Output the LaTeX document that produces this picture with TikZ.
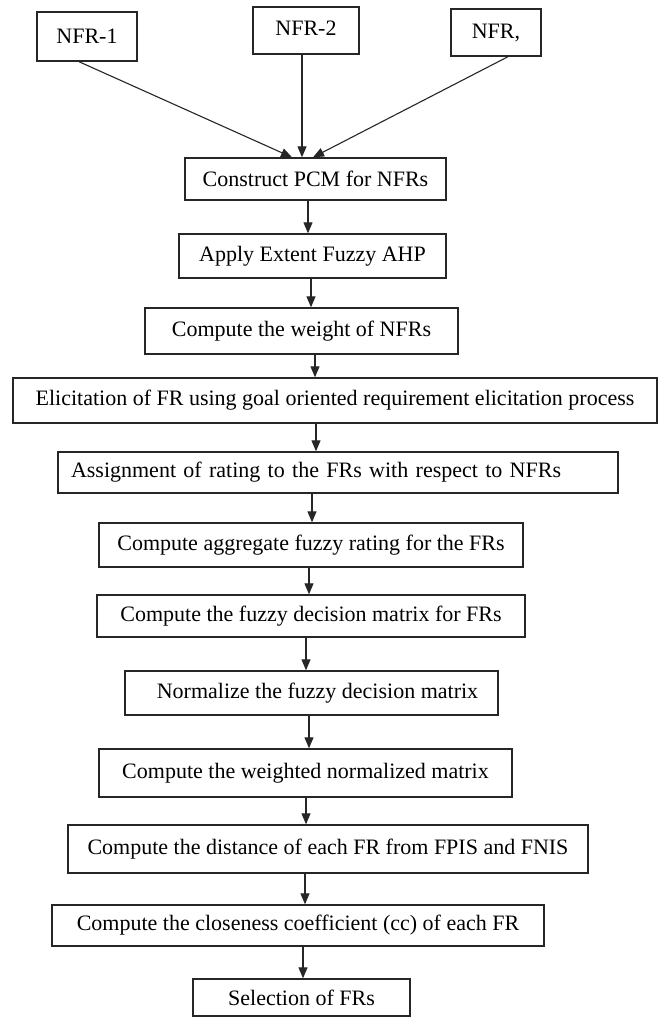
\documentclass[tikz,border=0pt]{standalone}
\usepackage{fontspec}
\setmainfont{Liberation Serif}
\usetikzlibrary{arrows.meta}
\tikzset{
  box/.style={draw=black!85, line width=1.4pt, inner sep=0pt, align=center, font=\fontsize{22}{25}\selectfont},
  arr/.style={draw=black!85, line width=1.1pt, -{Triangle[length=11pt,width=9pt]}}
}
\begin{document}
\begin{tikzpicture}[x=1pt,y=-1pt]
\fill[white] (0,0) rectangle (659,1017);
\useasboundingbox (0,0) rectangle (659,1017);
\node[box, minimum width=100pt, minimum height=49pt] (n1) at (87,36.5) {NFR-1};
\node[box, minimum width=106pt, minimum height=47pt] (n2) at (306,30.5) {\raisebox{4pt}{NFR-2}};
\node[box, minimum width=90pt, minimum height=47pt] (n3) at (496,32.5) {NFR,};
\node[box, minimum width=261pt, minimum height=42pt] (pcm) at (315.5,179) {Construct PCM for NFRs};
\node[box, minimum width=267pt, minimum height=44pt] (apply) at (312.5,256) {Apply Extent Fuzzy AHP};
\node[box, minimum width=313pt, minimum height=46pt] (weight) at (301.5,331) {Compute the weight of NFRs};
\node[box, minimum width=644pt, minimum height=45pt] (elic) at (335,400.5) {Elicitation of FR using goal oriented requirement elicitation process};
\node[box, minimum width=560pt, minimum height=41pt, inner xsep=13pt, text width=534pt, align=left] (assign) at (338,472.5) {Assignment of rating to the FRs with respect to NFRs};
\node[box, minimum width=424pt, minimum height=44pt] (aggr) at (311,545) {Compute aggregate fuzzy rating for the FRs};
\node[box, minimum width=428pt, minimum height=42pt] (dec) at (311,616) {Compute the fuzzy decision matrix for FRs};
\node[box, minimum width=373pt, minimum height=44pt] (norm) at (311.5,693) {\hspace*{12pt}Normalize the fuzzy decision matrix};
\node[box, minimum width=413pt, minimum height=48pt] (wnorm) at (305.5,773) {Compute the weighted normalized matrix};
\node[box, minimum width=520pt, minimum height=48pt] (dist) at (328,849) {Compute the distance of each FR from FPIS and FNIS};
\node[box, minimum width=492pt, minimum height=41pt] (close) at (298,925.5) {Compute the closeness coefficient (cc) of each FR};
\node[box, minimum width=217pt, minimum height=37pt] (sel) at (301.5,997.5) {Selection of FRs};
\draw[arr] ([xshift=-8pt]n1.south) -- ([xshift=-23.5pt]pcm.north);
\draw[arr] ([xshift=-4pt]n2.south) -- ([xshift=-13.5pt]pcm.north);
\draw[arr] ([xshift=12pt]n3.south) -- ([xshift=-2.5pt]pcm.north);
\draw[arr] ([xshift=-7.5pt]pcm.south) -- ([xshift=-4.5pt]apply.north);
\draw[arr] ([xshift=-1.5pt]apply.south) -- ([xshift=9.5pt]weight.north);
\draw[arr] ([xshift=13.5pt]weight.south) -- ([xshift=-20pt]elic.north);
\draw[arr] ([xshift=-19pt]elic.south) -- ([xshift=-22pt]assign.north);
\draw[arr] ([xshift=-26pt]assign.south) -- ([xshift=1pt]aggr.north);
\draw[arr] ([xshift=-2pt]aggr.south) -- ([xshift=-2pt]dec.north);
\draw[arr] ([xshift=-5pt]dec.south) -- ([xshift=-5.5pt]norm.north);
\draw[arr] ([xshift=-2.5pt]norm.south) -- ([xshift=3.5pt]wnorm.north);
\draw[arr] ([xshift=0.5pt]wnorm.south) -- ([xshift=-22pt]dist.north);
\draw[arr] ([xshift=-23pt]dist.south) -- ([xshift=7pt]close.north);
\draw[arr] ([xshift=5pt]close.south) -- ([xshift=1.5pt]sel.north);
\end{tikzpicture}
\end{document}
